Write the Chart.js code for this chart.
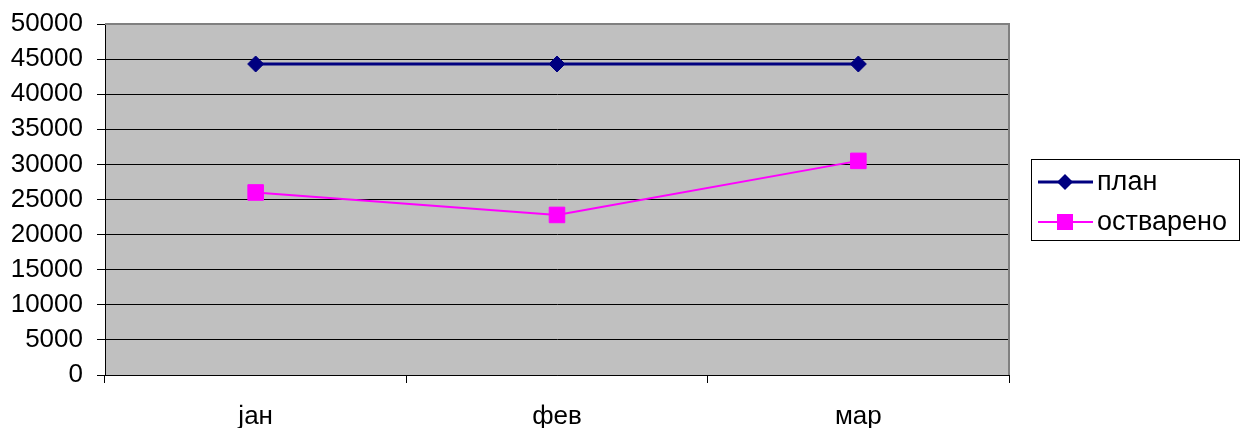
<!DOCTYPE html>
<html>
<head>
<meta charset="utf-8">
<script src="https://cdn.jsdelivr.net/npm/chart.js@4/dist/chart.umd.min.js"></script>
<style>
html,body{margin:0;padding:0;background:#fff;}
#wrap{width:1243px;height:428px;position:relative;}
</style>
</head>
<body>
<div id="wrap"><canvas id="c" width="1243" height="428"></canvas></div>
<script>
const categories = ['јан', 'фев', 'мар'];
const planValues = [44300, 44300, 44300];
const realizedValues = [26000, 22800, 30500];
const seriesLabels = ['план', 'остварено'];
const yTicks = [0, 5000, 10000, 15000, 20000, 25000, 30000, 35000, 40000, 45000, 50000];

const FONT = 'Liberation Sans, Arial, sans-serif';

const plotDecor = {
  id: 'plotDecor',
  beforeDraw(chart) {
    const {ctx, chartArea: a} = chart;
    ctx.save();
    ctx.fillStyle = '#C0C0C0';
    ctx.fillRect(a.left, a.top, a.right - a.left, a.bottom - a.top);
    ctx.restore();
  },
  afterDatasetsDraw(chart) {
    const {ctx, chartArea: a} = chart;
    ctx.save();
    ctx.strokeStyle = '#808080';
    ctx.lineWidth = 2;
    ctx.beginPath();
    ctx.moveTo(a.left, a.top);
    ctx.lineTo(a.right, a.top);
    ctx.lineTo(a.right, a.bottom);
    ctx.stroke();
    ctx.restore();
  },
  afterDraw(chart) {
    const {ctx} = chart;
    ctx.save();
    const bx = 1031, by = 159, bw = 208, bh = 81;
    ctx.fillStyle = '#fff';
    ctx.fillRect(bx, by, bw, bh);
    ctx.strokeStyle = '#000';
    ctx.lineWidth = 1;
    ctx.strokeRect(bx + 0.5, by + 0.5, bw, bh);
    const rows = [182, 222];
    chart.data.datasets.forEach((ds, i) => {
      const y = rows[i];
      ctx.strokeStyle = ds.borderColor;
      ctx.lineWidth = ds.borderWidth;
      ctx.beginPath();
      ctx.moveTo(1038, y);
      ctx.lineTo(1093, y);
      ctx.stroke();
      ctx.fillStyle = ds.pointBackgroundColor;
      if (ds.pointStyle === 'rectRot') {
        ctx.beginPath();
        ctx.moveTo(1065, y - 8);
        ctx.lineTo(1073, y);
        ctx.lineTo(1065, y + 8);
        ctx.lineTo(1057, y);
        ctx.closePath();
        ctx.fill();
      } else {
        ctx.fillRect(1065 - 8, y - 8, 16, 16);
      }
      ctx.fillStyle = '#000';
      ctx.font = '27px ' + FONT;
      ctx.textBaseline = 'middle';
      ctx.textAlign = 'left';
      ctx.fillText(ds.label, 1097, y + 1);
    });
    ctx.restore();
  }
};

new Chart(document.getElementById('c'), {
  type: 'line',
  data: {
    labels: categories,
    datasets: [
      {
        label: seriesLabels[0],
        data: planValues,
        borderColor: '#000080',
        backgroundColor: '#000080',
        pointBackgroundColor: '#000080',
        pointBorderColor: '#000080',
        borderWidth: 3,
        pointStyle: 'rectRot',
        pointRadius: 8,
        pointBorderWidth: 1,
        tension: 0
      },
      {
        label: seriesLabels[1],
        data: realizedValues,
        borderColor: '#FF00FF',
        backgroundColor: '#FF00FF',
        pointBackgroundColor: '#FF00FF',
        pointBorderColor: '#FF00FF',
        borderWidth: 2,
        pointStyle: 'rect',
        pointRadius: 11,
        pointBorderWidth: 1,
        tension: 0
      }
    ]
  },
  options: {
    responsive: false,
    animation: false,
    devicePixelRatio: 1,
    layout: { autoPadding: false, padding: { left: 0, top: 24, right: 234, bottom: 0 } },
    plugins: { legend: { display: false }, tooltip: { enabled: false } },
    scales: {
      x: {
        type: 'category',
        offset: true,
        grid: { offset: true, drawOnChartArea: false, drawTicks: true, tickLength: 8, color: '#000' },
        border: { display: true, color: '#000', width: 1 },
        ticks: { color: '#000', font: { family: FONT, size: 26 }, padding: 18, maxRotation: 0 },
        afterFit(s) { s.height = 53; s.paddingLeft = 0; s.paddingRight = 0; }
      },
      y: {
        min: 0,
        max: 50000,
        afterBuildTicks(s) { s.ticks = yTicks.map(v => ({ value: v })); },
        grid: { color: '#000', lineWidth: 1, tickLength: 8, drawTicks: true },
        border: { display: true, color: '#000', width: 1 },
        ticks: { color: '#000', font: { family: FONT, size: 26 }, padding: 14, callback: v => String(v) },
        afterFit(s) { s.width = 105; s.paddingTop = 0; s.paddingBottom = 0; }
      }
    }
  },
  plugins: [plotDecor]
});
</script>
</body>
</html>
